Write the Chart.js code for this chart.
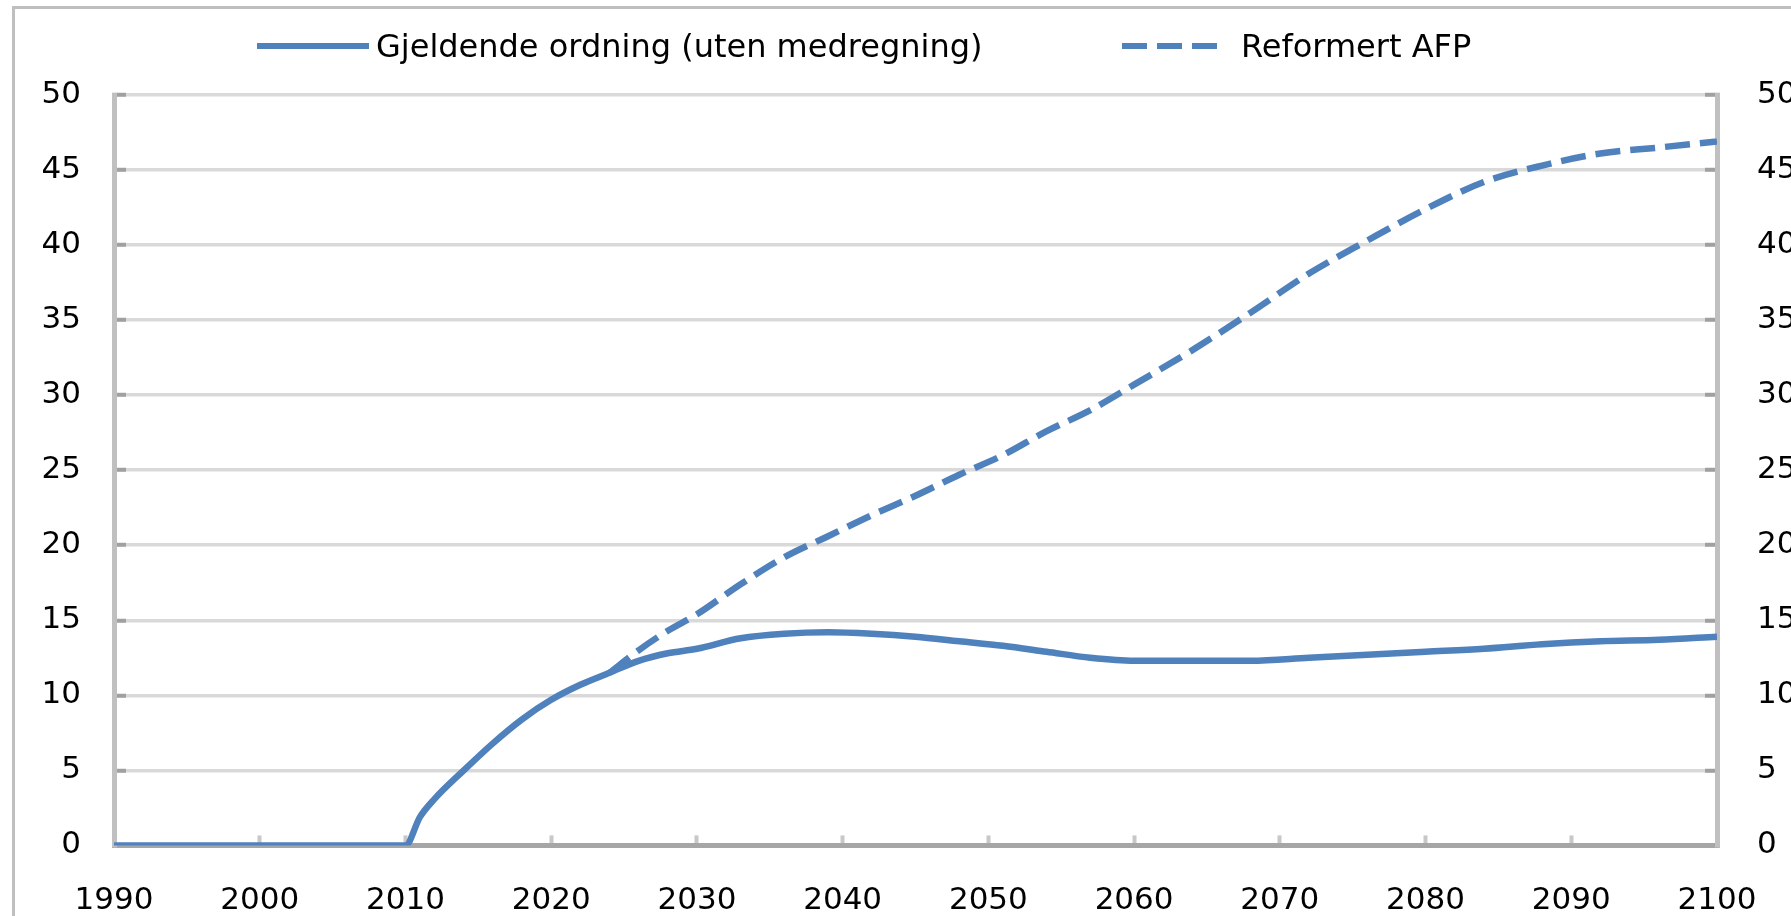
<!DOCTYPE html>
<html>
<head>
<meta charset="utf-8">
<script src="https://cdn.jsdelivr.net/npm/chart.js@4.4.1/dist/chart.umd.min.js"></script>
<style>
  html, body { margin: 0; padding: 0; background: #fff; overflow: hidden; width: 1791px; height: 916px; }
  #frame { position: absolute; left: 12px; top: 6px; width: 1900px; height: 1000px; border-left: 3px solid #bfbfbf; border-top: 3px solid #bfbfbf; }
  #wrap { position: absolute; left: 0; top: 0; width: 1860px; height: 916px; }
  #legend { position: absolute; left: 0; top: 0; width: 1791px; height: 90px; font-family: "DejaVu Sans"; font-size: 32px; color: #000; }
  .item { position: absolute; top: 27px; height: 38px; display: flex; align-items: center; white-space: nowrap; }
  .swatch { display: inline-block; height: 6px; }
</style>
</head>
<body>
<div id="frame"></div>
<div id="wrap"><canvas id="chart" width="1860" height="916"></canvas></div>
<div id="legend"></div>
<script>
// data lest av figuren
const years = [1990, 2000, 2010, 2011, 2012, 2014, 2016, 2018, 2020, 2022, 2024, 2026, 2028, 2030, 2033, 2036, 2039, 2042, 2045, 2048, 2051, 2054, 2057, 2060, 2064, 2068, 2072, 2076, 2080, 2084, 2088, 2092, 2096, 2100];
const gjeldende = [0, 0, 0, 1.9, 3.1, 5.0, 6.8, 8.4, 9.7, 10.7, 11.5, 12.3, 12.8, 13.1, 13.8, 14.1, 14.2, 14.1, 13.9, 13.6, 13.3, 12.9, 12.5, 12.3, 12.3, 12.3, 12.5, 12.7, 12.9, 13.1, 13.4, 13.6, 13.7, 13.9];

const afpYears = [2024, 2026, 2028, 2030, 2033, 2036, 2039, 2042, 2045, 2048, 2051, 2054, 2057, 2060, 2064, 2068, 2072, 2076, 2080, 2084, 2088, 2092, 2096, 2100];
const afp = [11.5, 13.0, 14.3, 15.4, 17.4, 19.2, 20.6, 22.0, 23.3, 24.7, 26.0, 27.6, 29.0, 30.7, 33.0, 35.5, 38.1, 40.3, 42.4, 44.2, 45.3, 46.1, 46.5, 46.9];

const seriesNames = ['Gjeldende ordning (uten medregning)', 'Reformert AFP'];
const xTicks = [1990, 2000, 2010, 2020, 2030, 2040, 2050, 2060, 2070, 2080, 2090, 2100];
const yTicks = [0, 5, 10, 15, 20, 25, 30, 35, 40, 45, 50];

const blue = '#4f81bd';
const tickFont = { family: 'DejaVu Sans', size: 31 };

function toPoints(xs, ys) {
    return xs.map((x, i) => ({ x: x, y: ys[i] }));
}

const yAxis = (pos, pad, width) => ({
    position: pos,
    min: yTicks[0],
    max: yTicks[yTicks.length - 1],
    afterBuildTicks: s => { s.ticks = yTicks.map(v => ({ value: v })); },
    ticks: { font: tickFont, color: '#000', padding: pad },
    grid: {
        color: '#d9d9d9', lineWidth: 3.5,
        drawOnChartArea: pos === 'left',
        tickLength: -12, tickColor: '#a0a0a0', tickWidth: 4
    },
    border: { color: '#c0c0c0', width: 5 },
    afterFit: s => { s.width = width; }
});

const chart = new Chart(document.getElementById('chart'), {
    type: 'line',
    data: {
        datasets: [{
            label: seriesNames[0],
            data: toPoints(years, gjeldende),
            borderColor: blue,
            borderWidth: 6.5,
            pointRadius: 0,
            cubicInterpolationMode: 'monotone'
        }, {
            label: seriesNames[1],
            data: toPoints(afpYears, afp),
            borderColor: blue,
            borderWidth: 6.5,
            borderDash: [25, 10],
            pointRadius: 0,
            cubicInterpolationMode: 'monotone'
        }]
    },
    options: {
        responsive: false,
        animation: false,
        devicePixelRatio: 1,
        layout: { padding: { left: 0, right: 0, top: 95, bottom: 0 } },
        plugins: { legend: { display: false }, tooltip: { enabled: false } },
        scales: {
            x: {
                type: 'linear',
                min: xTicks[0],
                max: xTicks[xTicks.length - 1],
                afterBuildTicks: s => { s.ticks = xTicks.map(v => ({ value: v })); },
                ticks: { font: tickFont, color: '#000', padding: 47, maxRotation: 0, autoSkip: false, callback: v => String(v) },
                grid: { drawOnChartArea: false, tickLength: -10, tickColor: '#c8c8c8', tickWidth: 4 },
                border: { color: '#a6a6a6', width: 5 },
                afterFit: s => { s.height = 67; }
            },
            y: yAxis('left', 45, 114),
            y2: yAxis('right', 52, 143)
        }
    }
});

// legende i html, bygget fra datasettene
const legendLeft = [257, 1122];
const swatchWidth = [112, 95];
const swatchGap = [7, 24];
const legend = document.getElementById('legend');
chart.data.datasets.forEach((ds, i) => {
    const item = document.createElement('div');
    item.className = 'item';
    item.style.left = legendLeft[i] + 'px';
    const sw = document.createElement('span');
    sw.className = 'swatch';
    sw.style.width = swatchWidth[i] + 'px';
    sw.style.marginRight = swatchGap[i] + 'px';
    if (ds.borderDash) {
        const d = ds.borderDash[0], g = ds.borderDash[1];
        sw.style.background = `repeating-linear-gradient(90deg, ${ds.borderColor} 0 ${d}px, transparent ${d}px ${d + g}px)`;
    } else {
        sw.style.background = ds.borderColor;
    }
    const txt = document.createElement('span');
    txt.textContent = ds.label;
    item.appendChild(sw);
    item.appendChild(txt);
    legend.appendChild(item);
});
</script>
</body>
</html>
